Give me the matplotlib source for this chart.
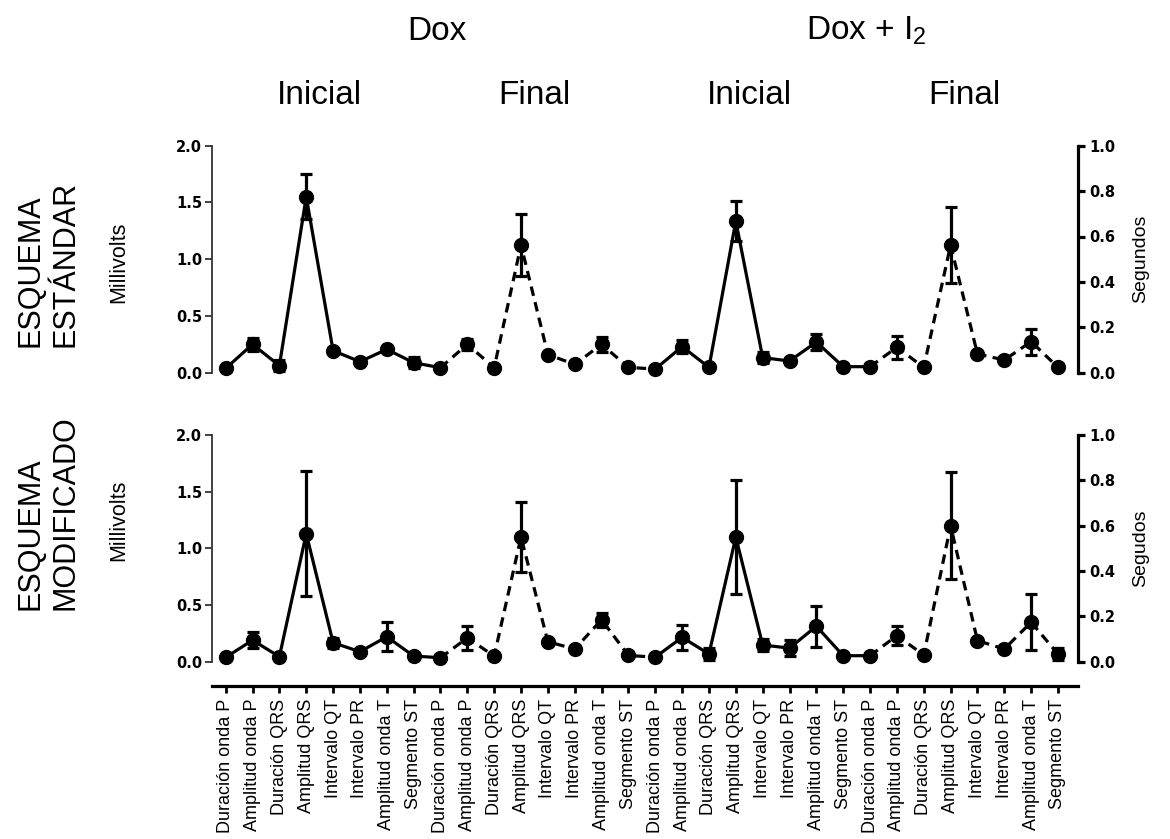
import numpy as np
import matplotlib
matplotlib.use("Agg")
import matplotlib.pyplot as plt
from matplotlib.transforms import blended_transform_factory

plt.rcParams['font.family'] = ['Liberation Sans', 'DejaVu Sans']
plt.rcParams['mathtext.default'] = 'regular'

# -------------------------------
# DATA (left axis = Millivolts scale)
# -------------------------------
parametros = ['Duración onda P', 'Amplitud onda P', 'Duración QRS', 'Amplitud QRS',
              'Intervalo QT', 'Intervalo PR', 'Amplitud onda T', 'Segmento ST']
categorias = parametros * 4
tratamientos = ['Dox', 'Dox + I$_2$']
fases = ['Inicial', 'Final', 'Inicial', 'Final']

estandar = [0.038, 0.25, 0.062, 1.55, 0.194, 0.097, 0.206, 0.088,
            0.044, 0.25, 0.044, 1.125, 0.16, 0.073, 0.25, 0.047,
            0.032, 0.23, 0.047, 1.336, 0.133, 0.103, 0.27, 0.053,
            0.053, 0.224, 0.047, 1.124, 0.165, 0.112, 0.274, 0.047]
estandar_err = [0.0, 0.06, 0.05, 0.20, 0.0, 0.0, 0.0, 0.05,
                0.0, 0.05, 0.0, 0.27, 0.0, 0.0, 0.065, 0.0,
                0.0, 0.06, 0.0, 0.18, 0.05, 0.0, 0.07, 0.0,
                0.0, 0.10, 0.0, 0.335, 0.0, 0.0, 0.115, 0.0]

modificado = [0.038, 0.19, 0.044, 1.13, 0.168, 0.088, 0.22, 0.05,
              0.035, 0.21, 0.05, 1.10, 0.176, 0.112, 0.37, 0.055,
              0.04, 0.215, 0.068, 1.10, 0.147, 0.12, 0.313, 0.053,
              0.053, 0.23, 0.059, 1.20, 0.186, 0.112, 0.348, 0.068]
modificado_err = [0.0, 0.07, 0.0, 0.55, 0.045, 0.0, 0.13, 0.0,
                  0.0, 0.105, 0.0, 0.305, 0.0, 0.0, 0.06, 0.0,
                  0.0, 0.11, 0.05, 0.50, 0.05, 0.07, 0.18, 0.0,
                  0.0, 0.085, 0.0, 0.47, 0.0, 0.0, 0.245, 0.05]

x = np.arange(len(categorias))
n_fase = len(parametros)

# -------------------------------
# FIGURE
# -------------------------------
W, H = 1170, 839
fig = plt.figure(figsize=(W / 100, H / 100), dpi=100)
ax_top = fig.add_axes([212 / W, 1 - 372.7 / H, 866 / W, 227 / H])
ax_bot = fig.add_axes([212 / W, 1 - 661.7 / H, 866 / W, 226.7 / H])


def bold_ticks(labels):
    for lbl in labels:
        lbl.set_fontfamily('DejaVu Sans')
        lbl.set_fontweight('bold')


def draw_panel(ax, vals, errs, right_label):
    vals = np.array(vals)
    # solid / dashed stretches of the line
    for i in range(4):
        a, b = i * n_fase, min((i + 1) * n_fase + 1, len(x))
        ls = '-' if i % 2 == 0 else (0, (3.0, 2.0))
        ax.plot(x[a:b], vals[a:b], color='black', lw=2.3, ls=ls, clip_on=False, zorder=3)
    ax.errorbar(x, vals, yerr=errs, fmt='o', color='black', ms=10, elinewidth=2.3,
                capsize=4, capthick=2.3, clip_on=False, zorder=4)

    ax.set_xlim(-0.51, 31.745)
    ax.set_ylim(0, 2)
    ax.set_yticks([0, 0.5, 1.0, 1.5, 2.0])
    ax.set_yticklabels([f'{v:.1f}' for v in [0, 0.5, 1.0, 1.5, 2.0]])
    for s in ['top', 'right', 'bottom']:
        ax.spines[s].set_visible(False)
    ax.spines['left'].set_linewidth(1.3)
    ax.spines['left'].set_color('#333333')
    ax.tick_params(axis='y', length=5, width=1.3, color='#333333', labelsize=10.5, pad=2)
    bold_ticks(ax.get_yticklabels())

    ax2 = ax.twinx()
    ax2.set_ylim(0, 1)
    rt = [0, 0.2, 0.4, 0.6, 0.8, 1.0]
    ax2.set_yticks(rt)
    ax2.set_yticklabels([f'{v:.1f}' for v in rt])
    for s in ['top', 'left', 'bottom']:
        ax2.spines[s].set_visible(False)
    ax2.spines['right'].set_linewidth(2.3)
    ax2.tick_params(axis='y', length=5, width=2.3, labelsize=10.5, pad=3)
    bold_ticks(ax2.get_yticklabels())
    ax2.set_ylabel(right_label, fontsize=14, labelpad=12)
    return ax2


draw_panel(ax_top, estandar, estandar_err, 'Segundos')
draw_panel(ax_bot, modificado, modificado_err, 'Segudos')

ax_top.set_xticks([])

ax_bot.spines['bottom'].set_visible(True)
ax_bot.spines['bottom'].set_position(('outward', 17.5))
ax_bot.spines['bottom'].set_linewidth(2.3)
ax_bot.set_xticks(x)
ax_bot.set_xticklabels(categorias, rotation=90, fontsize=13)
ax_bot.tick_params(axis='x', length=5, width=2, pad=4)

# -------------------------------
# HEADERS AND SIDE LABELS
# -------------------------------
tr = blended_transform_factory(ax_top.transData, fig.transFigure)
for i, t in enumerate(tratamientos):
    ax_top.text(i * 2 * n_fase + (2 * n_fase - 1) / 2 + 0.35, 1 - 31 / H, t, transform=tr,
                ha='center', va='center', fontsize=24)
for i, f in enumerate(fases):
    ax_top.text(i * n_fase + (n_fase - 1) / 2, 1 - 95 / H, f, transform=tr,
                ha='center', va='center', fontsize=24)

fig.text(48 / W, 1 - 347 / H, 'ESQUEMA\nESTÁNDAR', rotation=90, ha='center', va='bottom',
         multialignment='left', fontsize=22, linespacing=1.25)
fig.text(48 / W, 1 - 610 / H, 'ESQUEMA\nMODIFICADO', rotation=90, ha='center', va='bottom',
         multialignment='left', fontsize=22, linespacing=1.25)
fig.text(119 / W, 1 - 262 / H, 'Millivolts', rotation=90, ha='center', va='center', fontsize=15.5)
fig.text(119 / W, 1 - 520 / H, 'Millivolts', rotation=90, ha='center', va='center', fontsize=15.5)

fig.savefig('out.png', dpi=100)
